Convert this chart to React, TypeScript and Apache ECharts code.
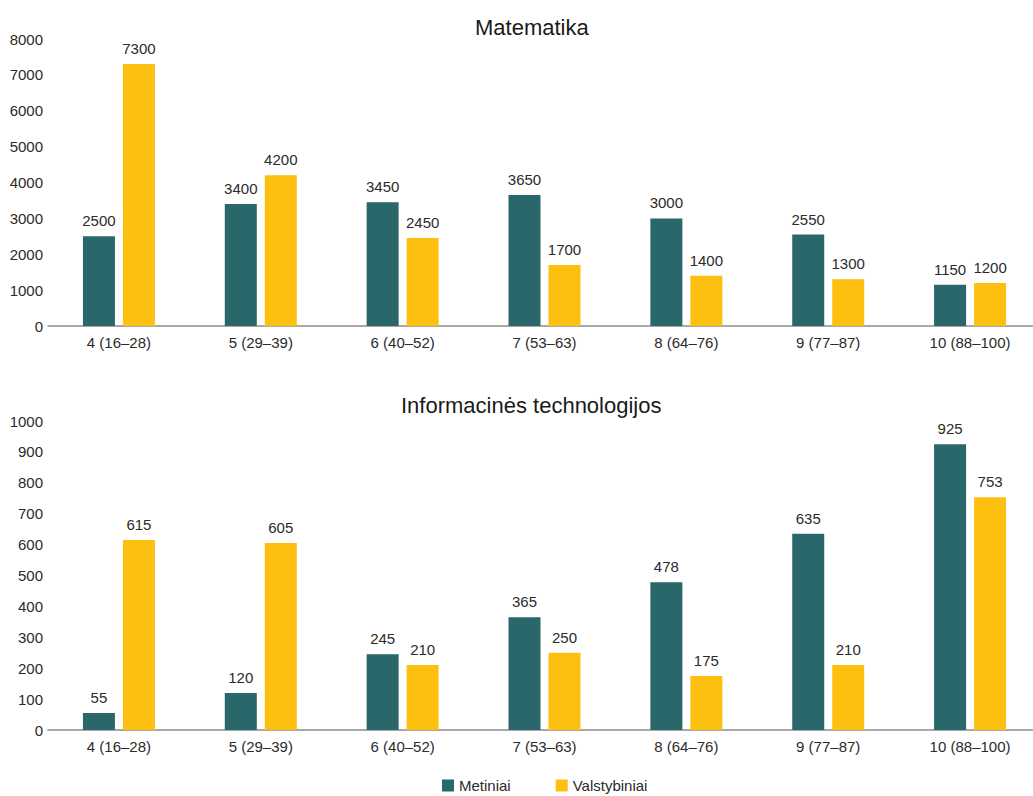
import React, { useEffect, useRef } from "react";
import * as echarts from "echarts";

const categories = ["4 (16–28)", "5 (29–39)", "6 (40–52)", "7 (53–63)", "8 (64–76)", "9 (77–87)", "10 (88–100)"];
const seriesNames = ["Metiniai", "Valstybiniai"];
const mathMetiniai = [2500, 3400, 3450, 3650, 3000, 2550, 1150];
const mathValstybiniai = [7300, 4200, 2450, 1700, 1400, 1300, 1200];
const itMetiniai = [55, 120, 245, 365, 478, 635, 925];
const itValstybiniai = [615, 605, 210, 250, 175, 210, 753];
const titles = ["Matematika", "Informacinės technologijos"];

const FONT = "'Liberation Sans', Arial, sans-serif";
const TEAL = "#29676b";
const YELLOW = "#fdc010";
const TEXT = "#2b2b2b";

export default function App() {
  const ref = useRef<HTMLDivElement>(null);
  useEffect(() => {
    if (!ref.current) return;
    const chart = echarts.init(ref.current, undefined, { renderer: "svg" });
    const xAxisBase = (gridIndex: number) => ({
      type: "category" as const,
      gridIndex,
      data: categories,
      axisLine: { lineStyle: { color: "#8c8c8c", width: 1.5 } },
      axisTick: { show: false },
      axisLabel: { color: TEXT, fontFamily: FONT, fontSize: 15, margin: 9 },
    });
    const yAxisBase = (gridIndex: number, max: number, interval: number) => ({
      type: "value" as const,
      gridIndex,
      min: 0,
      max,
      interval,
      axisLine: { show: false },
      axisTick: { show: false },
      splitLine: { show: false },
      axisLabel: { color: TEXT, fontFamily: FONT, fontSize: 15, margin: 5, formatter: (v: number) => String(v) },
    });
    const barSeries = (name: string, data: number[], color: string, idx: number) => ({
      type: "bar" as const,
      name,
      data,
      xAxisIndex: idx,
      yAxisIndex: idx,
      barWidth: 32,
      barGap: "25%",
      itemStyle: { color },
      label: { show: true, position: "top" as const, distance: 8, color: TEXT, fontFamily: FONT, fontSize: 15 },
    });
    chart.setOption({
      animation: false,
      backgroundColor: "#ffffff",
      title: [
        { text: titles[0], left: 470, top: 11, textStyle: { fontFamily: FONT, fontSize: 22, fontWeight: "normal", color: "#1a1a1a" } },
        { text: titles[1], left: 396, top: 389, textStyle: { fontFamily: FONT, fontSize: 22, fontWeight: "normal", color: "#1a1a1a" } },
      ],
      legend: {
        data: seriesNames,
        bottom: -2,
        left: 437,
        itemWidth: 12,
        itemHeight: 12,
        itemGap: 45,
        icon: "rect",
        textStyle: { fontFamily: FONT, fontSize: 15, color: TEXT },
      },
      grid: [
        { left: 48, right: -8, top: 39, height: 287, outerBoundsMode: "none", containLabel: false },
        { left: 48, right: -8, top: 421, height: 309, outerBoundsMode: "none", containLabel: false },
      ],
      xAxis: [xAxisBase(0), xAxisBase(1)],
      yAxis: [yAxisBase(0, 8000, 1000), yAxisBase(1, 1000, 100)],
      series: [
        barSeries(seriesNames[0], mathMetiniai, TEAL, 0),
        barSeries(seriesNames[1], mathValstybiniai, YELLOW, 0),
        barSeries(seriesNames[0], itMetiniai, TEAL, 1),
        barSeries(seriesNames[1], itValstybiniai, YELLOW, 1),
      ],
    });
    return () => chart.dispose();
  }, []);
  return <div ref={ref} style={{ position: "absolute", left: 0, top: 0, width: 1033, height: 796 }} />;
}
